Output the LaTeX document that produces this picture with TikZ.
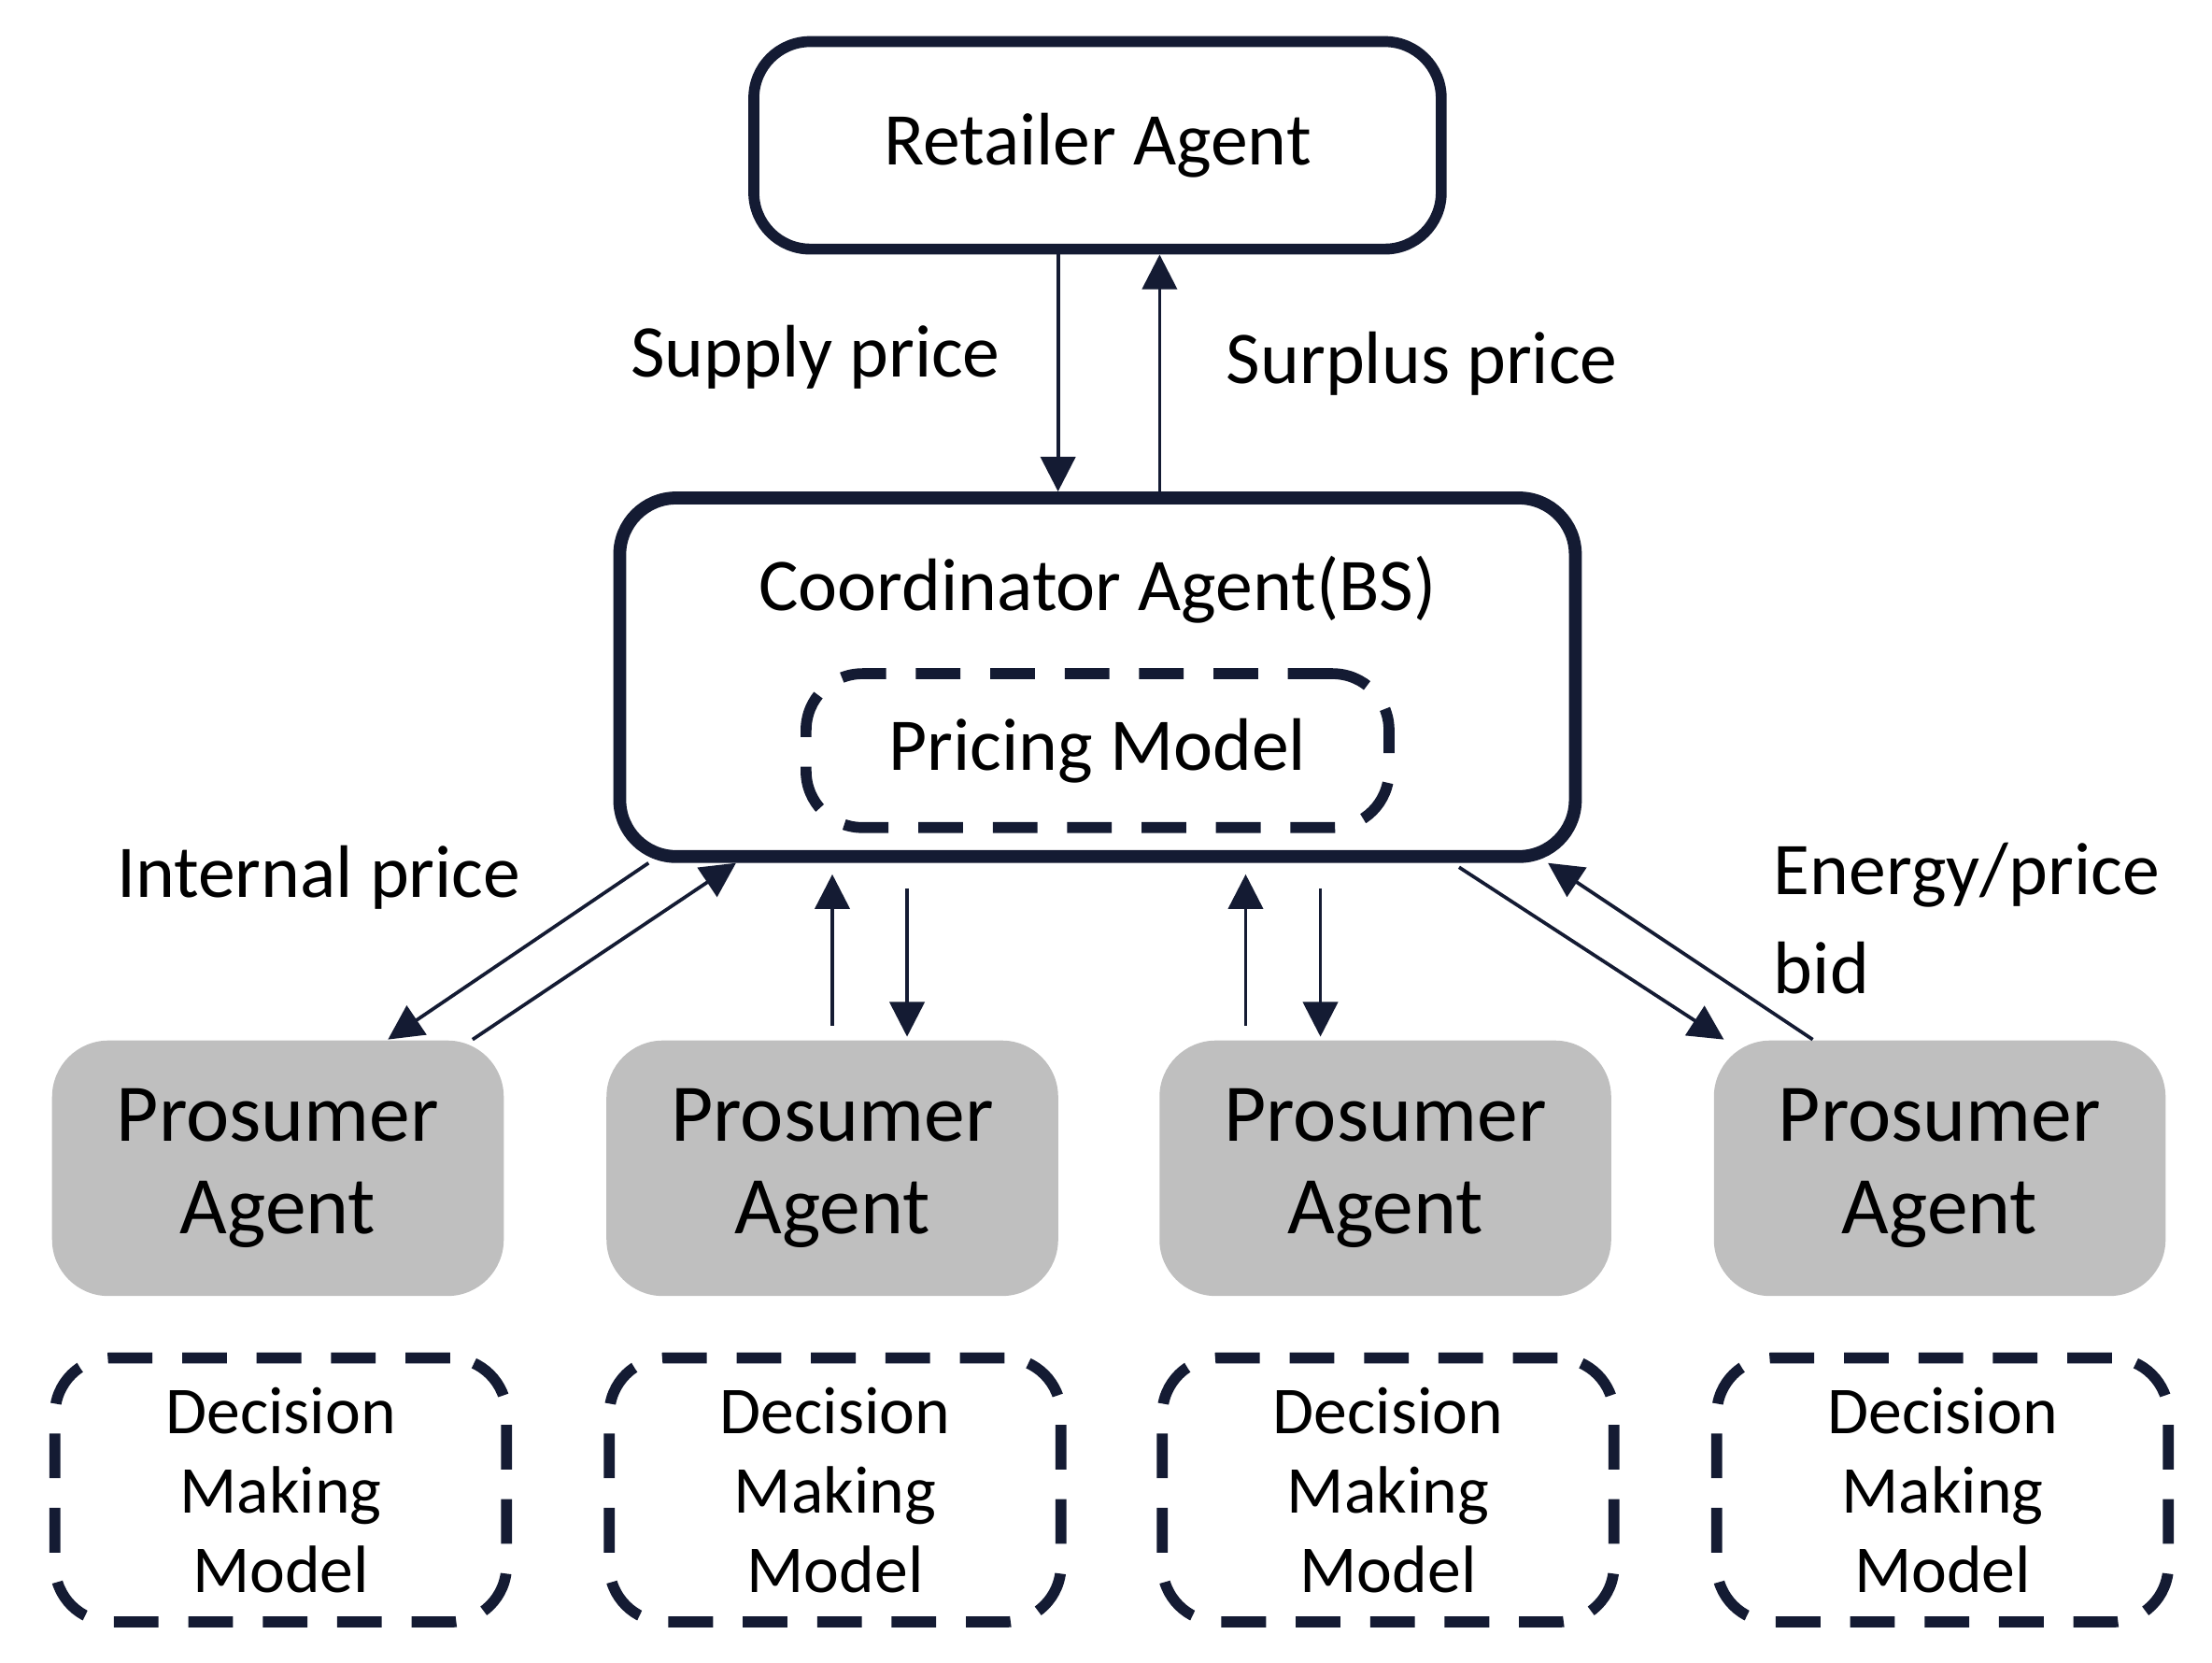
\documentclass[tikz,border=0pt]{standalone}
\usepackage{fontspec}
\setmainfont{Carlito}
\usetikzlibrary{arrows.meta,calc}
\definecolor{navy}{HTML}{141B33}
\definecolor{pgray}{HTML}{BFBFBF}
\tikzset{
  box/.style={draw=navy,line width=2.2pt,rounded corners=4mm,align=center},
  dbox/.style={draw=navy,line width=2.2pt,dash pattern=on 9pt off 6pt,rounded corners=4mm,align=center},
  pbox/.style={fill=pgray,rounded corners=4mm,align=center,minimum width=3.2cm,minimum height=1.81cm,inner sep=0pt},
  arr/.style={draw=navy,line width=0.7pt,-{Triangle[length=7pt,width=7pt]}},
  lbl/.style={font=\fontsize{15}{17}\selectfont}
}
\begin{document}
\begin{tikzpicture}[x=0.01cm,y=-0.01cm]
  \useasboundingbox (0,0) rectangle (1568,1178);
  \node[box,minimum width=4.87cm,minimum height=1.47cm,font=\fontsize{15}{18}\selectfont] (ret) at (778,103) {Retailer Agent};
  \node[box,line width=2.6pt,minimum width=6.77cm,minimum height=2.54cm] (coord) at (778,480) {};
  \node[lbl] (ctext) at (778,418) {Coordinator Agent(BS)};
  \node[dbox,minimum width=4.13cm,minimum height=1.09cm,font=\fontsize{15}{18}\selectfont] (price) at (778,532) {Pricing Model};
  % prosumers and decision models
  \foreach \i/\x in {1/197,2/590,3/982,4/1375}{
    \node[pbox,font=\fontsize{16.5}{18.5}\selectfont] (pa\i) at (\x,828) {Prosumer\\Agent};
    \node[dbox,minimum width=3.2cm,minimum height=1.87cm,font=\fontsize{13.5}{16}\selectfont] (dm\i) at (\x+2,1056) {Decision\\Making\\Model};
  }
  % retailer links
  \draw[arr] ($(ret.south)+(-28,0)$) -- ($(coord.north)+(-28,0)$);
  \draw[arr] ($(coord.north)+(44,0)$) -- ($(ret.south)+(44,0)$);
  \node[lbl] (supply) at (578,253) {Supply price};
  \node[lbl] (surplus) at (1008,258) {Surplus price};
  % prosumer links
  \draw[arr] ($(coord.south west)+(25,0)$) -- ($(pa1.north)+(78,0)$);
  \draw[arr] ($(pa1.north)+(138,0)$) -- ($(coord.south west)+(87,0)$);
  \draw[arr] ($(pa2.north)+(0,-10)$) -- ($(coord.south)+(-188,8)$);
  \draw[arr] ($(coord.south)+(-135,18)$) -- ($(pa2.north)+(53,-2)$);
  \draw[arr] ($(pa3.north)+(-99,-10)$) -- ($(coord.south)+(105,8)$);
  \draw[arr] ($(coord.south)+(158,18)$) -- ($(pa3.north)+(-46,-2)$);
  \draw[arr] ($(coord.south east)+(-87,3)$) -- ($(pa4.north)+(-153,0)$);
  \draw[arr] ($(pa4.north)+(-90,0)$) -- ($(coord.south east)+(-24,0)$);
  \node[lbl] (internal) at (226,622) {Internal price};
  \node[lbl,align=left,anchor=north west,font=\fontsize{15}{20}\selectfont] (bid) at (1245,585) {Energy/price\\bid};
\end{tikzpicture}
\end{document}
